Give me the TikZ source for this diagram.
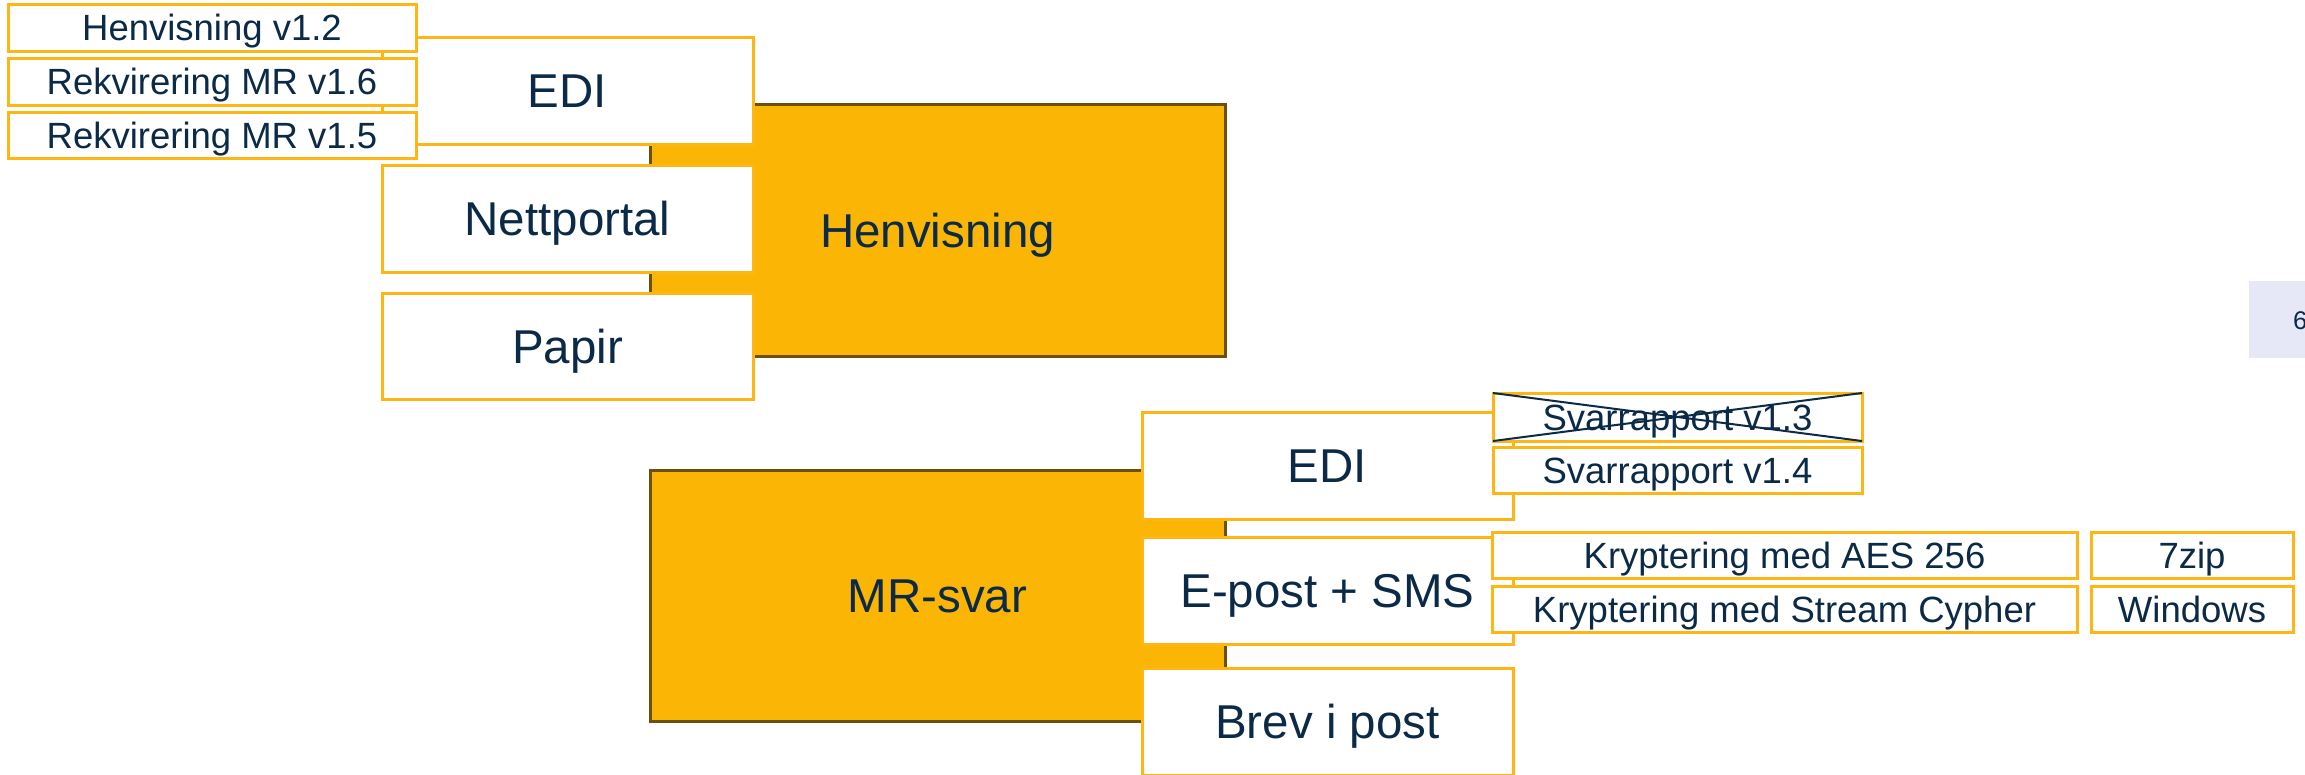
\documentclass[tikz,border=0pt]{standalone}
\usepackage{fontspec}
\setmainfont{Liberation Sans}
\definecolor{orangeF}{HTML}{FBB504}
\definecolor{orangeB}{HTML}{FDB614}
\definecolor{brownB}{HTML}{6B4F0A}
\definecolor{navy}{HTML}{0B2A47}
\definecolor{grayF}{HTML}{E6E8F7}
\begin{document}
\begin{tikzpicture}[x=1pt,y=-1pt,
  every node/.style={inner sep=0pt, outer sep=0pt, text=navy},
  bigbox/.style={draw=brownB, fill=orangeF, line width=3pt,
    font=\fontsize{47.5}{57}\selectfont, text height=34pt, text depth=0pt},
  wbox/.style={draw=orangeB, fill=white, line width=3pt,
    font=\fontsize{47.5}{57}\selectfont, text height=34pt, text depth=0pt},
  sbox/.style={draw=orangeB, fill=white, line width=3pt,
    font=\fontsize{36.5}{44}\selectfont, text height=26pt, text depth=0pt},
  cross/.style={draw=navy, line width=2pt}
]
\useasboundingbox (0,0) rectangle (2305,774);

% Henvisning group
\node[bigbox, minimum width=575pt, minimum height=252pt] (hen) at (937.5,230) {Henvisning};
\node[wbox, minimum width=371pt, minimum height=107pt] (edi1) at (567.5,90.5) {EDI};
\node[wbox, minimum width=371pt, minimum height=107pt] (nett) at (567.5,218.5) {Nettportal};
\node[wbox, minimum width=371pt, minimum height=106pt] (papir) at (567.5,346) {Papir};
\node[sbox, minimum width=408pt, minimum height=47pt] (h12) at (212,27.5) {Henvisning v1.2};
\node[sbox, minimum width=408pt, minimum height=47pt] (r16) at (212,81.5) {Rekvirering MR v1.6};
\node[sbox, minimum width=408pt, minimum height=46pt] (r15) at (212,135) {Rekvirering MR v1.5};

% MR-svar group
\node[bigbox, minimum width=575pt, minimum height=251pt] (mr) at (937.5,595.5) {MR-svar};
\node[wbox, minimum width=371pt, minimum height=107pt] (edi2) at (1327.5,465.5) {EDI};
\node[wbox, minimum width=371pt, minimum height=107pt] (epost) at (1327.5,590.5) {E-post + SMS};
\node[wbox, minimum width=371pt, minimum height=107pt] (brev) at (1327.5,721.5) {Brev i post};
\node[sbox, minimum width=369pt, minimum height=48pt] (s13) at (1677.5,417) {Svarrapport v1.3};
\draw[cross] (s13.north west) -- (s13.south east);
\draw[cross] (s13.south west) -- (s13.north east);
\node[sbox, minimum width=369pt, minimum height=46pt] (s14) at (1677.5,470) {Svarrapport v1.4};
\node[sbox, minimum width=585pt, minimum height=46pt] (aes) at (1784.5,555) {Kryptering med AES 256};
\node[sbox, minimum width=585pt, minimum height=46pt] (stream) at (1784.5,609) {Kryptering med Stream Cypher};
\node[sbox, minimum width=202pt, minimum height=46pt] (zip) at (2192,555) {7zip};
\node[sbox, minimum width=202pt, minimum height=46pt] (win) at (2192,609) {Windows};

% page number box
\node[fill=grayF, minimum width=81pt, minimum height=77pt] (pg) at (2289.5,319.5) {};
\node[anchor=west, font=\fontsize{25.6}{30}\selectfont, text height=18.3pt, text depth=0pt] (pgnum) at (2293,320) {6};
\end{tikzpicture}
\end{document}
